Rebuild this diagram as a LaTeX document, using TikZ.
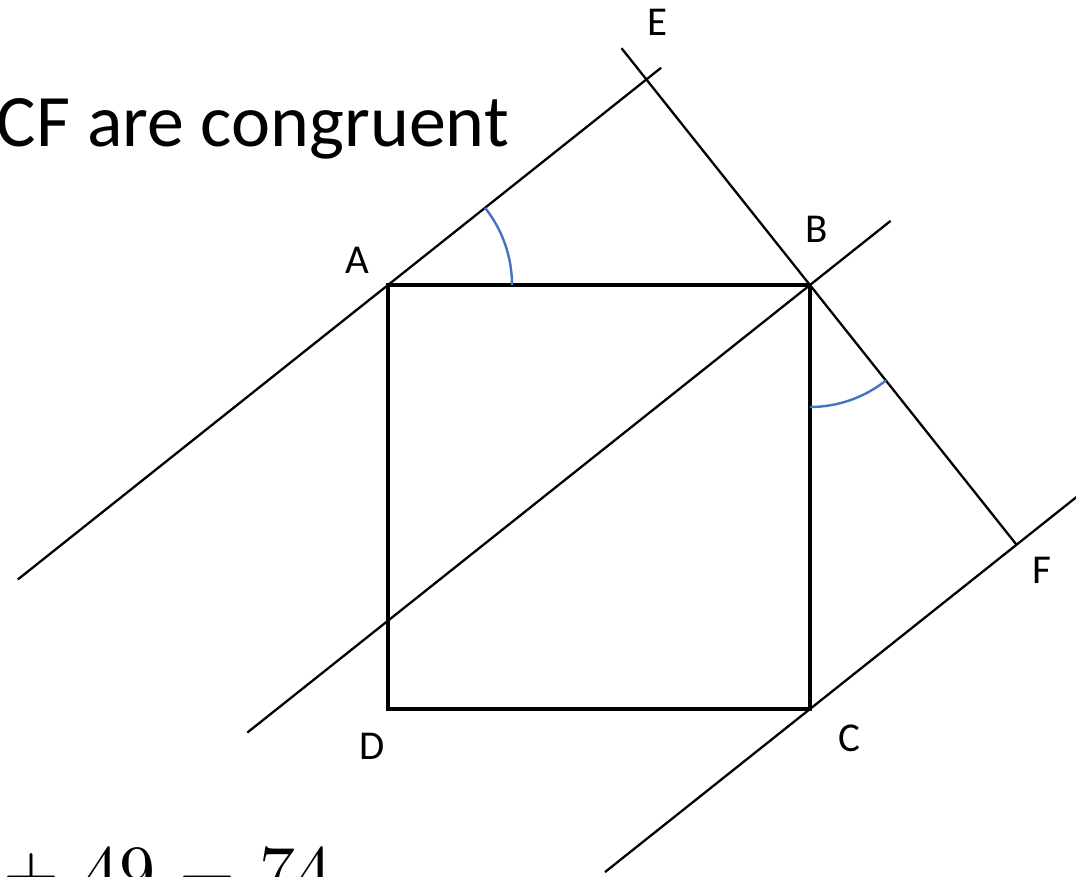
\documentclass[tikz,border=0pt]{standalone}
\usepackage{fontspec}
\usepackage{unicode-math}
\setmainfont{Carlito}
\setmathfont{Latin Modern Math}
\usetikzlibrary{calc}
\definecolor{arcblue}{RGB}{68,114,196}
\begin{document}
\begin{tikzpicture}[x=1pt,y=1pt,
  thinline/.style={line width=2.3pt,black},
  squareline/.style={line width=3.6pt,black,line join=miter},
  anglearc/.style={line width=2.4pt,arcblue},
  ptlabel/.style={font=\fontsize{41}{44}\selectfont,inner sep=0pt},
  bigtext/.style={font=\fontsize{74}{80}\selectfont,inner sep=0pt}]
\useasboundingbox (0,0) rectangle (1076,-877);
\clip (0,0) rectangle (1076,-877);
% square vertices
\coordinate (A) at (388,-285);
\coordinate (B) at (810,-285);
\coordinate (C) at (810,-709);
\coordinate (D) at (388,-709);
% parallel line ends
\coordinate (a1) at ($(A)+(218.5:473)$);
\coordinate (a2) at ($(A)+(38.5:349)$);
\coordinate (b1) at ($(B)+(218.5:719)$);
\coordinate (b2) at ($(B)+(38.5:103)$);
\coordinate (c1) at ($(C)+(218.5:262)$);
\coordinate (c2) at ($(C)+(38.5:380)$);
% feet of perpendiculars
\coordinate (E) at ($(a1)!(B)!(a2)$);
\coordinate (F) at ($(c1)!(B)!(c2)$);
\coordinate (e1) at ($(E)+(128.5:40)$);
% lines
\draw[thinline] (a1) -- (a2);
\draw[thinline] (b1) -- (b2);
\draw[thinline] (c1) -- (c2);
\draw[thinline] (e1) -- (F);
\draw[squareline] (A) -- (B) -- (C) -- (D) -- cycle;
% angle arcs
\draw[anglearc] ($(A)+(124,0)$) arc[start angle=0,end angle=38.5,radius=124];
\draw[anglearc] ($(B)+(0,-122)$) arc[start angle=-90,end angle=-51.5,radius=122];
% labels
\node[ptlabel] (lA) at (357,-260) {A};
\node[ptlabel] (lB) at (817,-229) {B};
\node[ptlabel] (lC) at (849,-738) {C};
\node[ptlabel] (lD) at (372,-746) {D};
\node[ptlabel] (lE) at (658,-22) {E};
\node[ptlabel] (lF) at (1042,-570) {F};
% texts
\node[bigtext,anchor=base east] (title) at (509,-147) {CF are congruent};
\node[inner sep=0pt,anchor=base west,font=\fontsize{72}{80}\selectfont] (eq) at (3,-895) {${+}\mskip6mu 49\mskip6mu{-}\mskip6mu 74$};
\end{tikzpicture}
\end{document}
